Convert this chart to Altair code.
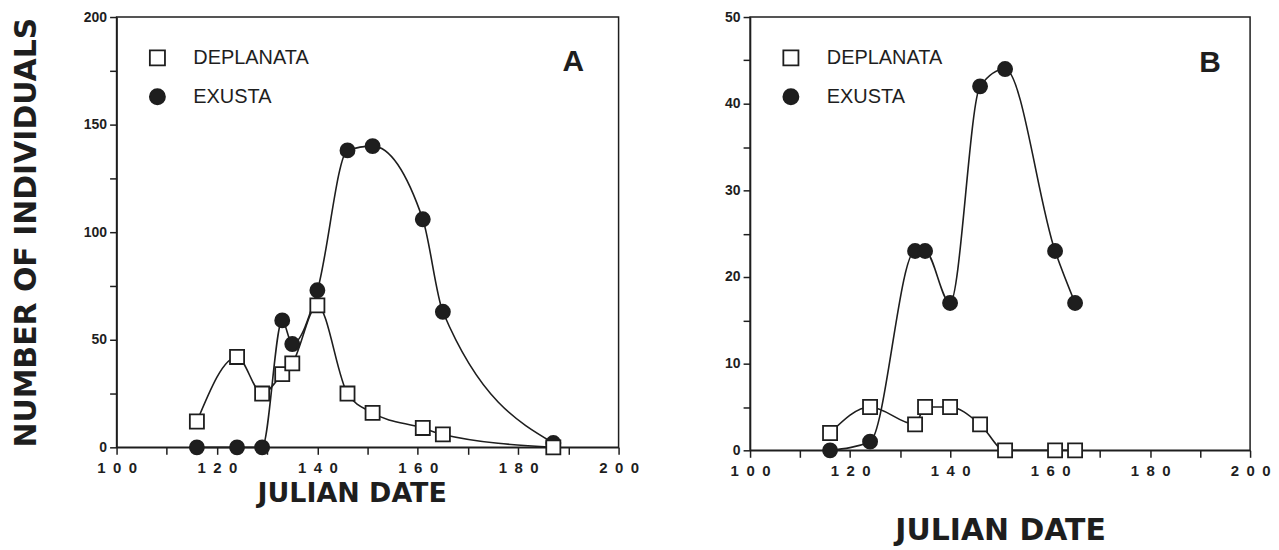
import altair as alt
import pandas as pd

# ---------------- data ----------------
species_order = ["DEPLANATA", "EXUSTA"]

a_exusta_day = [116, 124, 129, 133, 135, 140, 146, 151, 161, 165, 187]
a_exusta_n = [0, 0, 0, 59, 48, 73, 138, 140, 106, 63, 2]
a_deplanata_day = [116, 124, 129, 133, 135, 140, 146, 151, 161, 165, 187]
a_deplanata_n = [12, 42, 25, 34, 39, 66, 25, 16, 9, 6, 0]

b_exusta_day = [116, 124, 133, 135, 140, 146, 151, 161, 165]
b_exusta_n = [0, 1, 23, 23, 17, 42, 44, 23, 17]
b_deplanata_day = [116, 124, 133, 135, 140, 146, 151, 161, 165]
b_deplanata_n = [2, 5, 3, 5, 5, 3, 0, 0, 0]

panel_letters = ["A", "B"]
letter_day = [191, 192]
letter_n = [179, 44.7]

x_ticks = list(range(100, 201, 10))
a_y_ticks = list(range(0, 201, 25))
b_y_ticks = list(range(0, 51, 5))

INK = "#1e1e1e"


def make_df(ex_day, ex_n, de_day, de_n):
    rows = []
    for d, n in zip(ex_day, ex_n):
        rows.append({"day": d, "n": n, "species": "EXUSTA"})
    for d, n in zip(de_day, de_n):
        rows.append({"day": d, "n": n, "species": "DEPLANATA"})
    return pd.DataFrame(rows)


AXIS_COMMON = dict(
    grid=False,
    domainColor=INK,
    domainWidth=1.5,
    tickColor=INK,
    tickWidth=1.5,
    tickSize=7,
    labelFont="Liberation Sans",
    labelFontWeight="bold",
    labelColor=INK,
    titleColor=INK,
    labelOverlap=False,
    labelFlush=False,
)


def panel(df, letter, lday, ln, yticks, ymax, ylabstep, width, height,
          ytitle, xtitle_size, xtitle_pad, xtitle_x):
    x_axis = alt.Axis(
        values=x_ticks,
        labelExpr="datum.value % 20 == 0 ? join(split(datum.label, ''), '\u2002') : ''",
        labelFontSize=15,
        labelPadding=6,
        title="JULIAN DATE",
        titleFont="DejaVu Sans",
        titleFontWeight="bold",
        titleFontSize=xtitle_size,
        titlePadding=xtitle_pad,
        titleX=xtitle_x,
        **AXIS_COMMON,
    )
    y_axis_kwargs = dict(
        values=yticks,
        labelExpr=f"datum.value % {ylabstep} == 0 ? datum.label : ''",
        labelFontSize=14,
        labelPadding=3,
        **AXIS_COMMON,
    )
    if ytitle:
        y_axis_kwargs.update(
            title=ytitle,
            titleFont="DejaVu Sans",
            titleFontWeight="bold",
            titleFontSize=30,
            titlePadding=42,
        )
    else:
        y_axis_kwargs.update(title=None)
    y_axis = alt.Axis(**y_axis_kwargs)

    xs = alt.Scale(domain=[100, 200], nice=False, zero=False)
    ys = alt.Scale(domain=[0, ymax], nice=False)

    legend = alt.Legend(
        title=None,
        orient="top-left",
        offset=31,
        padding=0,
        labelFont="Liberation Sans",
        labelFontSize=20,
        labelColor=INK,
        labelOffset=26,
        rowPadding=15,
        symbolSize=230,
        symbolStrokeWidth=1.8,
    )

    base = alt.Chart(df)
    lines = base.mark_line(interpolate="monotone", color=INK, strokeWidth=1.6).encode(
        x=alt.X("day:Q", scale=xs, axis=x_axis),
        y=alt.Y("n:Q", scale=ys, axis=y_axis),
        detail="species:N",
    )
    points = base.mark_point(
        strokeWidth=1.8, opacity=1, fillOpacity=1, strokeOpacity=1, size=200
    ).encode(
        x=alt.X("day:Q", scale=xs),
        y=alt.Y("n:Q", scale=ys),
        shape=alt.Shape(
            "species:N",
            scale=alt.Scale(domain=species_order, range=["square", "circle"]),
            legend=legend,
        ),
        fill=alt.Fill(
            "species:N",
            scale=alt.Scale(domain=species_order, range=["white", INK]),
            legend=legend,
        ),
        stroke=alt.Stroke(
            "species:N",
            scale=alt.Scale(domain=species_order, range=[INK, INK]),
            legend=legend,
        ),
    )
    ldf = pd.DataFrame({"day": [lday], "n": [ln], "label": [letter]})
    text = alt.Chart(ldf).mark_text(
        font="Liberation Sans", fontWeight="bold", fontSize=30, color=INK,
        align="center", baseline="middle"
    ).encode(
        x=alt.X("day:Q", scale=xs),
        y=alt.Y("n:Q", scale=ys),
        text="label:N",
    )
    return alt.layer(lines, points, text).properties(width=width, height=height)


dfa = make_df(a_exusta_day, a_exusta_n, a_deplanata_day, a_deplanata_n)
dfb = make_df(b_exusta_day, b_exusta_n, b_deplanata_day, b_deplanata_n)

pa = panel(dfa, panel_letters[0], letter_day[0], letter_n[0], a_y_ticks, 200, 50,
           504, 432, "NUMBER OF INDIVIDUALS", 27, 5, 236)
pb = panel(dfb, panel_letters[1], letter_day[1], letter_n[1], b_y_ticks, 50, 10,
           502, 435, None, 30, 38, 251)

chart = (
    alt.hconcat(pa, pb, spacing=132, bounds="flush")
    .resolve_scale(shape="independent", fill="independent", stroke="independent",
                   x="independent", y="independent")
    .resolve_legend(shape="independent", fill="independent", stroke="independent")
    .properties(padding={"left": 2, "top": 0, "right": 0, "bottom": 0}, background="white")
    .configure_view(stroke=INK, strokeWidth=1.5)
)

chart.save("out.html", embed_options={"renderer": "svg", "actions": False})
